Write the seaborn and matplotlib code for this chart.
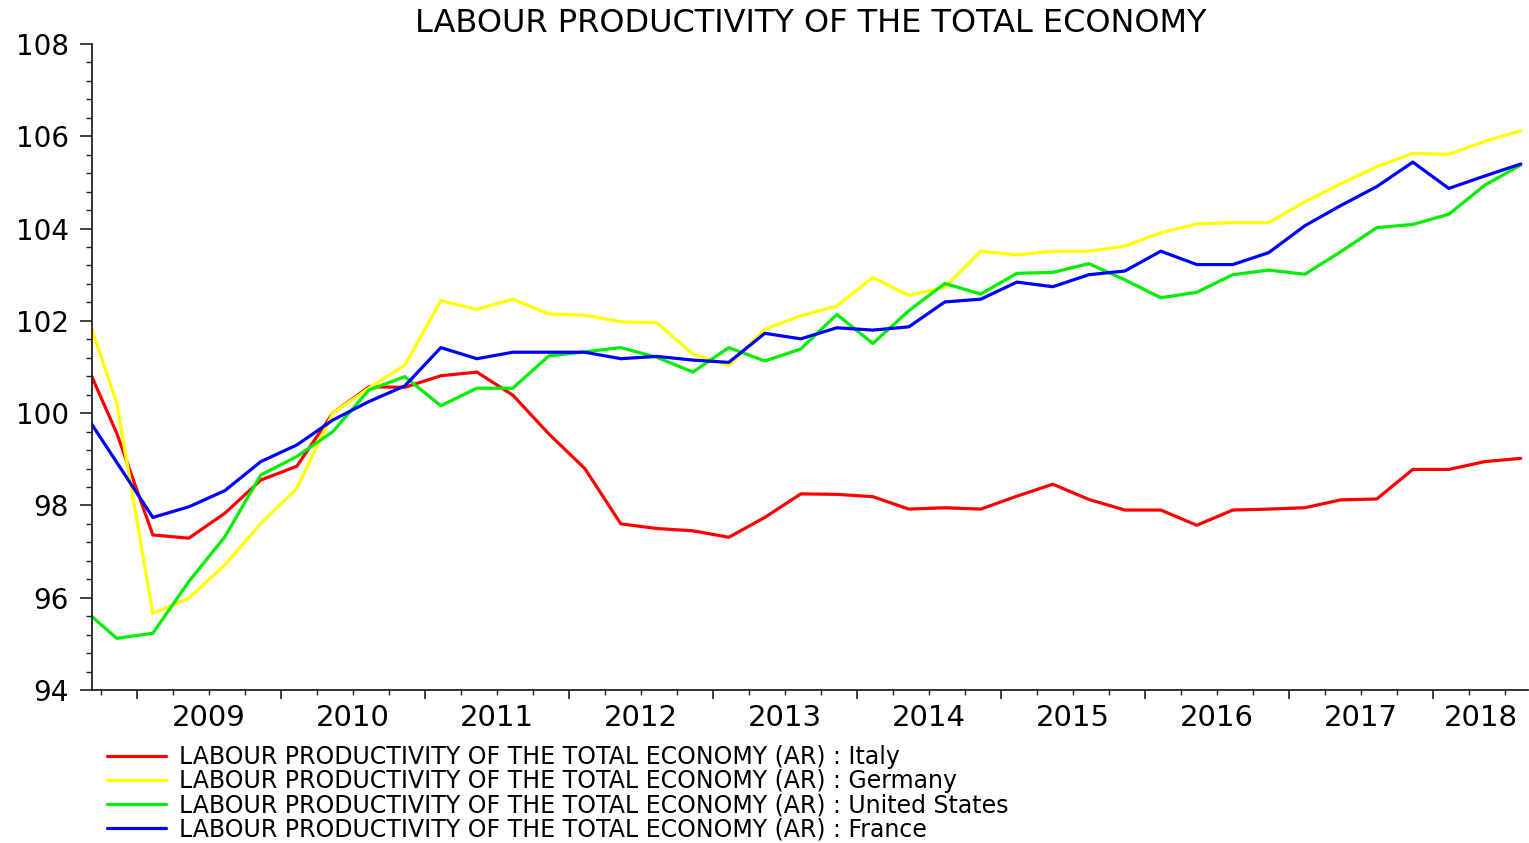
import numpy as np
import pandas as pd
import seaborn as sns
import matplotlib.pyplot as plt
from matplotlib import transforms
from matplotlib.ticker import FixedLocator, MultipleLocator, NullFormatter

# quarterly observations, 2008Q3 .. 2018Q3
quarters = pd.period_range("2008Q3", "2018Q3", freq="Q")

italy = [101.33, 99.56, 97.36, 97.29, 97.83, 98.55, 98.85, 100.00, 100.57, 100.56,
         100.81, 100.89, 100.39, 99.55, 98.80, 97.60, 97.50, 97.45, 97.31, 97.74,
         98.25, 98.24, 98.19, 97.92, 97.95, 97.92, 98.20, 98.46, 98.13, 97.90,
         97.90, 97.57, 97.90, 97.92, 97.95, 98.12, 98.14, 98.78, 98.78, 98.95, 99.02]
germany = [102.53, 100.21, 95.66, 95.99, 96.71, 97.61, 98.37, 100.00, 100.54, 101.04,
           102.44, 102.25, 102.47, 102.15, 102.12, 101.98, 101.96, 101.28, 101.03, 101.82,
           102.11, 102.32, 102.94, 102.55, 102.73, 103.51, 103.43, 103.51, 103.51, 103.62,
           103.91, 104.10, 104.13, 104.13, 104.58, 104.97, 105.34, 105.63, 105.61, 105.89, 106.12]
united_states = [95.80, 95.12, 95.23, 96.35, 97.32, 98.66, 99.06, 99.60, 100.50, 100.79,
                 100.16, 100.54, 100.54, 101.24, 101.33, 101.42, 101.21, 100.89, 101.42, 101.13,
                 101.39, 102.14, 101.51, 102.22, 102.81, 102.58, 103.03, 103.05, 103.24, 102.89,
                 102.50, 102.62, 103.00, 103.10, 103.01, 103.50, 104.02, 104.09, 104.31, 104.94, 105.38]
france = [100.12, 98.93, 97.74, 97.97, 98.32, 98.95, 99.31, 99.85, 100.25, 100.59,
          101.42, 101.18, 101.32, 101.32, 101.32, 101.18, 101.23, 101.15, 101.10, 101.73,
          101.61, 101.85, 101.80, 101.87, 102.41, 102.47, 102.84, 102.74, 103.00, 103.08,
          103.51, 103.22, 103.22, 103.48, 104.06, 104.50, 104.91, 105.44, 104.87, 105.14, 105.40]

countries = ["Italy", "Germany", "United States", "France"]
colors = ["#ff0000", "#ffff00", "#00ee00", "#0000ff"]
years = list(range(2009, 2019))
label_prefix = "LABOUR PRODUCTIVITY OF THE TOTAL ECONOMY (AR) : "

# decimal-year position of each quarter
xpos = np.array([q.year + (q.quarter - 1) / 4 + 0.11 for q in quarters])

df = pd.concat([
    pd.DataFrame({"x": xpos, "value": vals, "country": name})
    for name, vals in zip(countries, [italy, germany, united_states, france])
])

sns.set_theme(style="white")
plt.rcParams["font.family"] = ["DejaVu Sans"]
plt.rcParams["text.color"] = "black"
plt.rcParams["xtick.labelcolor"] = "black"
plt.rcParams["ytick.labelcolor"] = "black"

fig = plt.figure(figsize=(15.29, 8.43), dpi=100)
ax = fig.add_axes([92 / 1529, 1 - 690 / 843, (1528 - 92) / 1529, (690 - 44) / 843])

sns.lineplot(data=df, x="x", y="value", hue="country", hue_order=countries,
             palette=colors, linewidth=2.3, ax=ax, legend=False)

xmin, xmax = 2008.6875, 2018.66
ax.set_xlim(xmin, xmax)
ax.set_ylim(94, 108)
ax.set_xlabel("")
ax.set_ylabel("")

for side in ["top", "right"]:
    ax.spines[side].set_visible(False)
for side in ["left", "bottom"]:
    ax.spines[side].set_color("#222222")
    ax.spines[side].set_linewidth(1.3)

# y axis: labels every 2, minor every 0.4
ax.set_yticks(np.arange(94, 109, 2))
ax.yaxis.set_minor_locator(MultipleLocator(0.4))
ax.tick_params(axis="y", which="major", direction="out", length=8.5, width=1.2,
               color="#222222", labelsize=20, labelcolor="black", pad=8, left=True)
ax.tick_params(axis="y", which="minor", direction="out", length=4.3, width=1.0,
               color="#222222", left=True)

# x axis: year boundaries (long ticks) and quarters (short ticks)
ax.xaxis.set_major_locator(FixedLocator(years))
ax.xaxis.set_major_formatter(NullFormatter())
ax.xaxis.set_minor_locator(MultipleLocator(0.25))
ax.tick_params(axis="x", which="major", direction="out", length=6.5, width=1.2,
               color="#222222", bottom=True)
ax.tick_params(axis="x", which="minor", direction="out", length=3.5, width=1.0,
               color="#222222", bottom=True)

trans = transforms.blended_transform_factory(ax.transData, ax.transAxes)
for yr in years:
    center = yr + 0.5 if yr + 1 <= xmax else (yr + xmax) / 2
    ax.text(center, -0.044, str(yr), transform=trans, ha="center", va="center",
            fontsize=21, color="black")

fig.text(811 / 1529, 1 - 23 / 843, "LABOUR PRODUCTIVITY OF THE TOTAL ECONOMY",
         ha="center", va="center", fontsize=23, color="black")

leg = fig.legend(ax.get_lines(), [label_prefix + c for c in countries],
                 loc="upper left", bbox_to_anchor=(107 / 1529, 1 - 745 / 843),
                 frameon=False, fontsize=17, handlelength=2.5, handletextpad=0.55,
                 labelspacing=0.0, borderpad=0, borderaxespad=0)
for t in leg.get_texts():
    t.set_color("black")

fig.savefig("out.png", dpi=100, facecolor="white")
